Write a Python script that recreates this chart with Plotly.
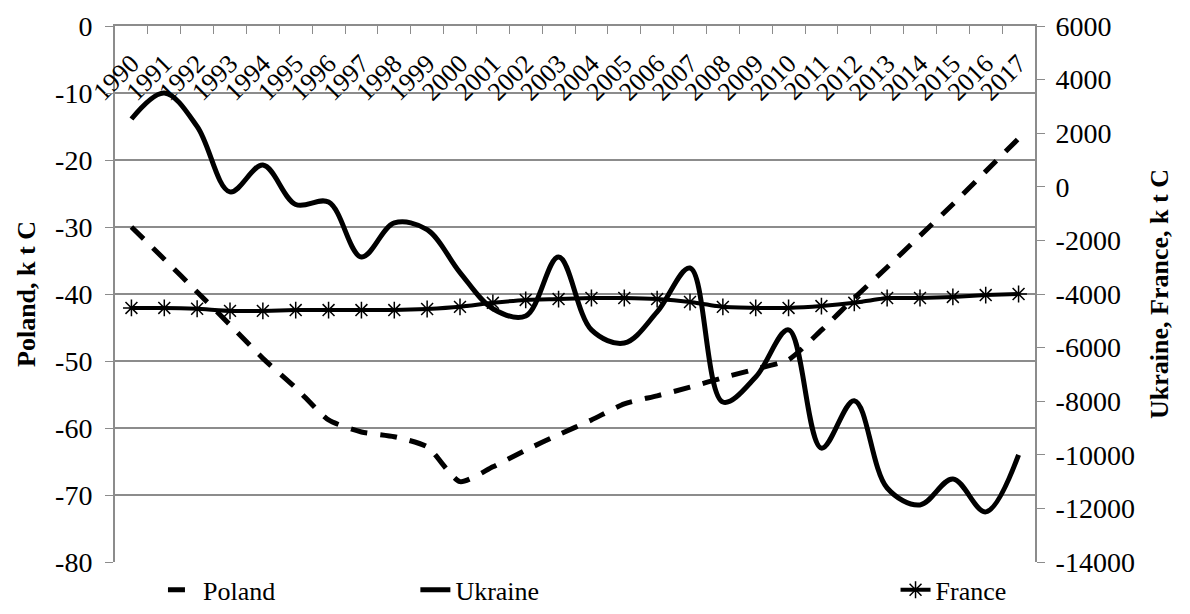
import plotly.graph_objects as go

years = [str(y) for y in range(1990, 2018)]

poland = [-30, -34.8, -39.7, -44.6, -49.6, -54, -58.8, -60.6, -61.3, -62.8,
          -68, -65.8, -63.3, -61, -58.8, -56.4, -55.2, -53.9, -52.5, -51.2,
          -49.8, -45.4, -40.6, -36, -31.3, -26.6, -21.7, -16.8]

ukraine = [2530, 3500, 2250, -190, 810, -660, -570, -2620, -1350, -1600,
           -3200, -4550, -4820, -2620, -5340, -5830, -4670, -3030, -8030, -7100,
           -5340, -9750, -7980, -11240, -11870, -10900, -12130, -10000]

france = [-4520, -4520, -4550, -4630, -4630, -4600, -4600, -4600, -4600, -4560,
          -4480, -4330, -4220, -4190, -4150, -4150, -4190, -4300, -4480, -4520,
          -4520, -4450, -4330, -4150, -4150, -4110, -4040, -4000]

left_ticks = [0, -10, -20, -30, -40, -50, -60, -70, -80]
left_text = ["0", "-10", "-20", "-30", "-40", "-50", "-60", "-70", "-80"]
right_ticks = [6000, 4000, 2000, 0, -2000, -4000, -6000, -8000, -10000, -12000, -14000]
right_text = ["6000", "4000", "2000", "0", "-2000", "-4000", "-6000", "-8000",
              "-10000", "-12000", "-14000"]

FONT = "Liberation Serif"
GRID = "#8c8c8c"

fig = go.Figure()
fig.add_trace(go.Scatter(
    x=years, y=poland, name="Poland", mode="lines",
    line=dict(color="black", width=5, dash="17px,13px", shape="spline", smoothing=0.6),
    xaxis="x", yaxis="y", legend="legend"))
fig.add_trace(go.Scatter(
    x=years, y=ukraine, name="Ukraine", mode="lines",
    line=dict(color="black", width=5, shape="spline", smoothing=1),
    xaxis="x", yaxis="y2", legend="legend2"))
fig.add_trace(go.Scatter(
    x=years, y=france, name="France", mode="lines+markers",
    line=dict(color="black", width=4, shape="spline", smoothing=0.4),
    marker=dict(symbol="asterisk-open", size=14, color="black",
                line=dict(color="black", width=1.5)),
    xaxis="x", yaxis="y2", legend="legend3"))

leg_common = dict(orientation="h", xref="container", yref="container",
                  yanchor="middle", font=dict(family=FONT, size=26, color="black"),
                  bgcolor="rgba(0,0,0,0)", itemwidth=30)

# page body has an 8px default margin, so the figure is offset by 8px
fig.update_layout(
    width=1174, height=598,
    margin=dict(l=107, r=147, t=18, b=44, autoexpand=False),
    plot_bgcolor="white", paper_bgcolor="white",
    font=dict(family=FONT, size=26, color="black"),
    showlegend=True,
    xaxis=dict(
        type="category", range=[-0.5, 27.5],
        anchor="free", position=0.97, side="bottom",
        showline=False, ticks="", tickangle=-45,
        tickfont=dict(family=FONT, size=26, color="black"),
        showgrid=False, zeroline=False, automargin=False),
    xaxis2=dict(
        type="category", range=[-0.5, 27.5], overlaying="x", matches="x",
        anchor="y", side="top",
        showline=True, linecolor=GRID, linewidth=2,
        ticks="inside", ticklen=8, tickcolor=GRID, tickson="boundaries",
        showticklabels=False, showgrid=False, zeroline=False, automargin=False),
    yaxis=dict(
        range=[-80, 0], tickvals=left_ticks, ticktext=left_text,
        anchor="x",
        showline=True, linecolor=GRID, linewidth=2,
        ticks="outside", ticklen=8, tickcolor=GRID, ticklabelstandoff=7,
        showgrid=True, gridcolor=GRID, gridwidth=2, zeroline=False,
        tickfont=dict(family=FONT, size=28, color="black"), automargin=False,
        title=dict(text="<b>Poland, k t C</b>", font=dict(family=FONT, size=26, color="black"),
                   standoff=12)),
    yaxis2=dict(
        range=[-14000, 6000], tickvals=right_ticks, ticktext=right_text,
        overlaying="y", side="right", anchor="x",
        showline=True, linecolor=GRID, linewidth=2,
        ticks="outside", ticklen=8, tickcolor=GRID, ticklabelstandoff=5,
        showgrid=False, zeroline=False,
        tickfont=dict(family=FONT, size=28, color="black"), automargin=False,
        title=dict(text="<b>Ukraine, France, k t C</b>", font=dict(family=FONT, size=26, color="black"),
                   standoff=16)),
    legend=dict(x=0.132, y=0.027, **leg_common),
    legend2=dict(x=0.347, y=0.027, **leg_common),
    legend3=dict(x=0.756, y=0.027, **leg_common),
)

# invisible trace so the top boundary axis (ticks between years) is rendered
fig.add_trace(go.Scatter(x=years, y=[None] * len(years), xaxis="x2", yaxis="y",
                         showlegend=False, hoverinfo="skip"))

fig.write_html("out.html")
